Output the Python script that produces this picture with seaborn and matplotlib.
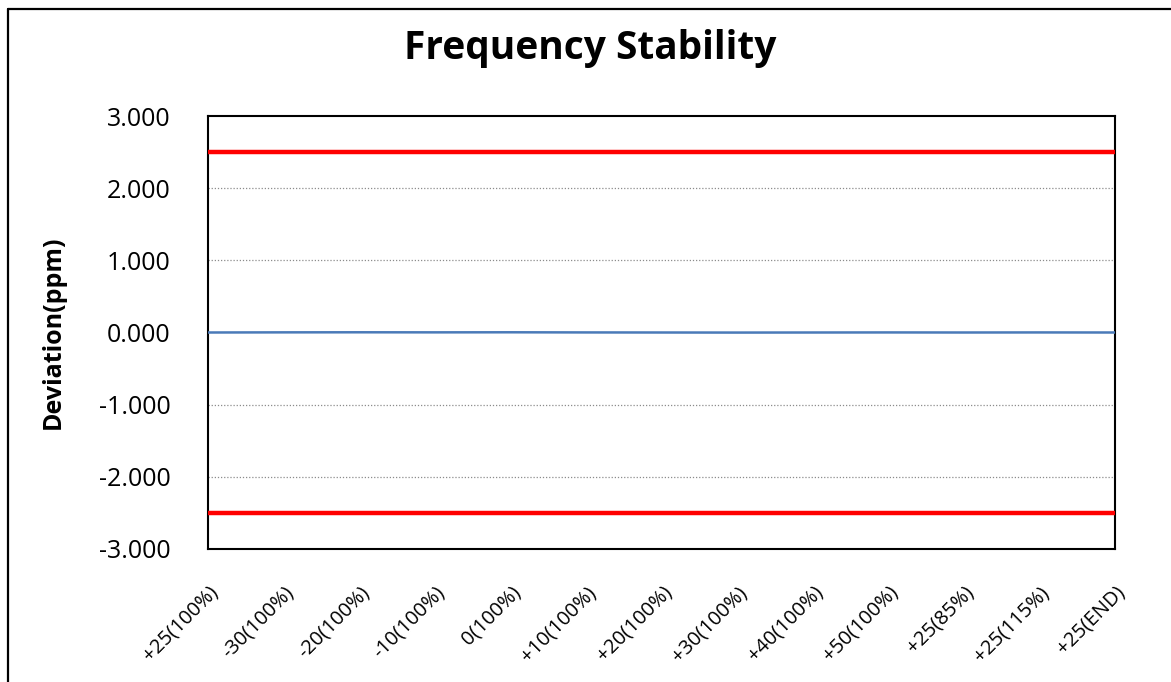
import matplotlib
matplotlib.use("Agg")
import matplotlib.pyplot as plt
import seaborn as sns
import pandas as pd
from matplotlib.lines import Line2D

categories = ["+25(100%)", "-30(100%)", "-20(100%)", "-10(100%)", "0(100%)",
              "+10(100%)", "+20(100%)", "+30(100%)", "+40(100%)", "+50(100%)",
              "+25(85%)", "+25(115%)", "+25(END)"]
deviation = [0.000, 0.002, 0.003, 0.002, 0.003, 0.001, 0.000,
             -0.001, 0.000, 0.001, 0.000, 0.001, 0.000]
upper_limit = [2.5] * 13
lower_limit = [-2.5] * 13
y_ticks = [3, 2, 1, 0, -1, -2, -3]
y_tick_labels = ["3.000", "2.000", "1.000", "0.000", "-1.000", "-2.000", "-3.000"]

sns.set_theme(style="white")
plt.rcParams['font.family'] = ['Open Sans', 'DejaVu Sans']
plt.rcParams['text.color'] = 'black'
plt.rcParams['xtick.color'] = 'black'
plt.rcParams['ytick.color'] = 'black'
plt.rcParams['axes.labelcolor'] = 'black'

df = pd.DataFrame({"idx": list(range(len(categories))),
                   "dev": deviation, "up": upper_limit, "lo": lower_limit})

fig = plt.figure(figsize=(11.71, 6.82), dpi=100)
ax = fig.add_axes([208/1171, 1-549/682, (1115-208)/1171, (549-116)/682])

for yv in [2, 1, -1, -2]:
    ax.axhline(yv, color="#8c8c8c", linestyle=(0, (1, 1.5)), linewidth=0.9, zorder=1)

sns.lineplot(data=df, x="idx", y="up", color="#ff0000", linewidth=3.2, ax=ax, zorder=3)
sns.lineplot(data=df, x="idx", y="lo", color="#ff0000", linewidth=3.2, ax=ax, zorder=3)
sns.lineplot(data=df, x="idx", y="dev", color="#4a7ab8", linewidth=1.8, ax=ax, zorder=4)

ax.set_xlim(0, len(categories) - 1)
ax.set_ylim(-3, 3)
ax.set_yticks(y_ticks)
ax.set_yticklabels(y_tick_labels, fontsize=18)
ax.set_xticks(range(len(categories)))
ax.set_xticklabels(categories, rotation=45, ha="right", rotation_mode="anchor", fontsize=14.5)
ax.tick_params(axis="y", pad=27, length=0)
ax.tick_params(axis="x", pad=24, length=0)
ax.set_xlabel("")
ax.set_ylabel("Deviation(ppm)", fontsize=18, fontweight="bold")
ax.yaxis.set_label_coords(-(208-66)/907, 0.5)
for s in ax.spines.values():
    s.set_color("black")
    s.set_linewidth(1.5)

fig.text(590/1171, 1-48/682, "Frequency Stability", ha="center", va="center",
         fontsize=28, fontweight="bold")

fig.add_artist(Line2D([8/1171, 8/1171], [0, 1-8.5/682], color="black", linewidth=1.6,
                      transform=fig.transFigure))
fig.add_artist(Line2D([8/1171, 1], [1-8.5/682, 1-8.5/682], color="black", linewidth=1.6,
                      transform=fig.transFigure))

fig.savefig("out.png", dpi=100)
